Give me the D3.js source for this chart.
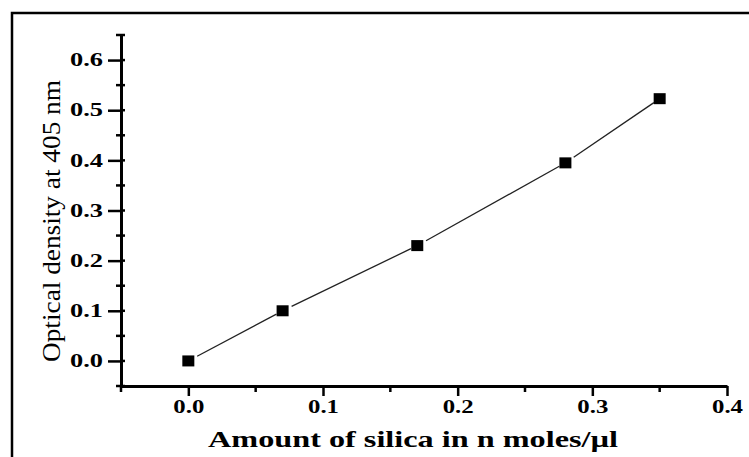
<!DOCTYPE html>
<html>
<head>
<meta charset="utf-8">
<script src="https://cdn.jsdelivr.net/npm/d3@7/dist/d3.min.js"></script>
<style>
  html, body { margin: 0; padding: 0; background: #fff; }
  svg { display: block; }
  .tick text { font-family: "Liberation Serif", "Times New Roman", serif; font-weight: bold; font-size: 18px; fill: #000; }
</style>
</head>
<body>
<svg id="chart" width="749" height="457"></svg>
<script>
// Silica standard curve: amount of silica vs. optical density at 405 nm
const silica = [0.0, 0.07, 0.17, 0.28, 0.35];
const opticalDensity = [0.0, 0.1, 0.23, 0.395, 0.523];

const xTicks = [0.0, 0.1, 0.2, 0.3, 0.4];
const xMinorTicks = [-0.05, 0.05, 0.15, 0.25, 0.35];
const yTicks = [0.0, 0.1, 0.2, 0.3, 0.4, 0.5, 0.6];
const yMinorTicks = [-0.05, 0.05, 0.15, 0.25, 0.35, 0.45, 0.55, 0.65];

const xTitle = "Amount of silica in n moles/\u00b5l";
const yTitle = "Optical density at 405 nm";

const svg = d3.select("#chart");

const x = d3.scaleLinear().domain([-0.05, 0.4]).range([121, 727]);
const y = d3.scaleLinear().domain([-0.05, 0.65]).range([386, 35]);

const x0 = x(-0.05), y0 = y(-0.05);

// outer frame
svg.append("rect")
  .attr("x", 12).attr("y", 13)
  .attr("width", 760).attr("height", 480)
  .attr("fill", "none").attr("stroke", "#000").attr("stroke-width", 2.5);

// x axis
const fmt = d3.format(".1f");
const gx = svg.append("g").attr("transform", `translate(0,${y0})`)
  .call(d3.axisBottom(x).tickValues(xTicks).tickSize(10).tickSizeOuter(0).tickPadding(4).tickFormat(fmt));
gx.select(".domain").attr("stroke-width", 3);
gx.selectAll(".tick line").attr("stroke-width", 2.5);
gx.selectAll(".tick text").attr("textLength", 31).attr("lengthAdjust", "spacingAndGlyphs");
gx.selectAll(".minor").data(xMinorTicks).join("line")
  .attr("class", "minor")
  .attr("x1", d => x(d)).attr("x2", d => x(d))
  .attr("y1", 0).attr("y2", 6)
  .attr("stroke", "#000").attr("stroke-width", 2.5);

// y axis
const gy = svg.append("g").attr("transform", `translate(${x0},0)`)
  .call(d3.axisLeft(y).tickValues(yTicks).tickSize(13).tickSizeOuter(0).tickPadding(5).tickFormat(fmt));
gy.select(".domain").attr("stroke-width", 3);
gy.selectAll(".tick line").attr("stroke-width", 2.5);
gy.selectAll(".tick text").attr("textLength", 33).attr("lengthAdjust", "spacingAndGlyphs");
gy.selectAll(".inner").data(yTicks).join("line")
  .attr("class", "inner")
  .attr("x1", 0).attr("x2", 4)
  .attr("y1", d => y(d)).attr("y2", d => y(d))
  .attr("stroke", "#000").attr("stroke-width", 2.5);
gy.selectAll(".minor").data(yMinorTicks).join("line")
  .attr("class", "minor")
  .attr("x1", -5).attr("x2", 4)
  .attr("y1", d => y(d)).attr("y2", d => y(d))
  .attr("stroke", "#000").attr("stroke-width", 2.5);

// connecting line, broken short of each marker
const pts = silica.map((s, i) => [x(s), y(opticalDensity[i])]);
const gap = 10;
const segs = d3.pairs(pts).map(([a, b]) => {
  const dx = b[0] - a[0], dy = b[1] - a[1];
  const len = Math.hypot(dx, dy);
  const ux = dx / len, uy = dy / len;
  return [[a[0] + ux * gap, a[1] + uy * gap], [b[0] - ux * (gap - 3), b[1] - uy * (gap - 3)]];
});
svg.append("g").selectAll("line").data(segs).join("line")
  .attr("x1", d => d[0][0]).attr("y1", d => d[0][1])
  .attr("x2", d => d[1][0]).attr("y2", d => d[1][1])
  .attr("stroke", "#222").attr("stroke-width", 1.3);

// square markers
const ms = 12, mh = 11;
svg.append("g").selectAll("rect").data(silica).join("rect")
  .attr("x", d => x(d) - ms / 2)
  .attr("y", (d, i) => y(opticalDensity[i]) - mh / 2)
  .attr("width", ms).attr("height", mh)
  .attr("fill", "#000");

// axis titles
svg.append("text")
  .attr("x", 413).attr("y", 447)
  .attr("text-anchor", "middle")
  .attr("font-family", "Liberation Serif, Times New Roman, serif")
  .attr("font-weight", "bold").attr("font-size", 23)
  .attr("textLength", 410).attr("lengthAdjust", "spacingAndGlyphs")
  .text(xTitle);

svg.append("text")
  .attr("transform", "translate(60,221) rotate(-90)")
  .attr("text-anchor", "middle")
  .attr("font-family", "Liberation Serif, Times New Roman, serif")
  .attr("font-size", 25)
  .attr("textLength", 282).attr("lengthAdjust", "spacingAndGlyphs")
  .text(yTitle);
</script>
</body>
</html>
